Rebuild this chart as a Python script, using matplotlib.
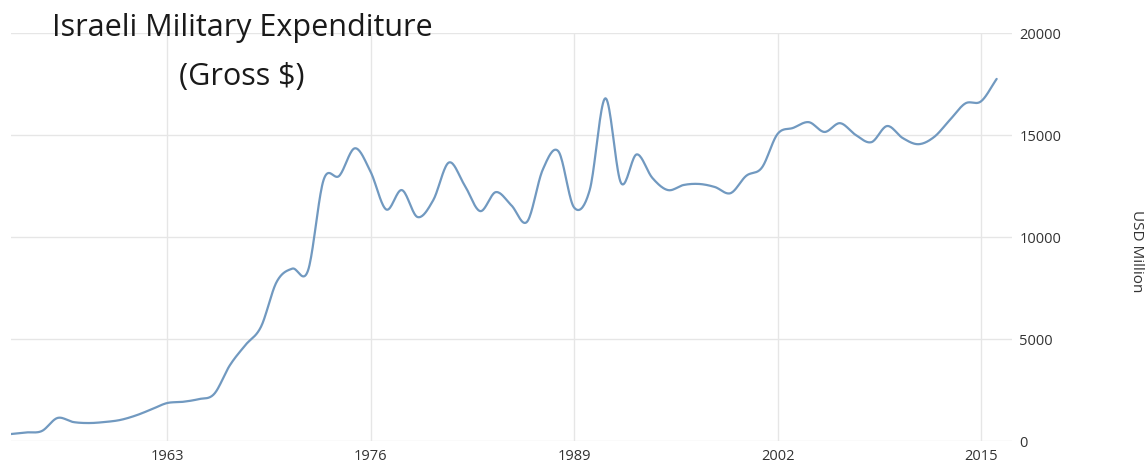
import numpy as np
import matplotlib
matplotlib.use("Agg")
import matplotlib.pyplot as plt


years = list(range(1953, 2017))

spend = [
    340, 420, 490, 1130, 930, 880, 930, 1030, 1250, 1550,
    1860, 1920, 2050, 2300, 3700, 4700, 5600, 7800, 8450, 8350,
    12800, 13000, 14350, 13200, 11350, 12300, 10980, 11800, 13650, 12550,
    11270, 12200, 11550, 10750, 13300, 14200, 11450, 12300, 16800, 12650,
    14050, 12900, 12300, 12550, 12600, 12450, 12150, 13000, 13400, 15050,
    15350, 15630, 15150, 15580, 15000, 14650, 15440, 14850, 14550, 14900,
    15730, 16550, 16650, 17750,
]

y_ticks = [0, 5000, 10000, 15000, 20000]
x_ticks = [1963, 1976, 1989, 2002, 2015]


def smooth(xs, ys, n=20):
    # cardinal spline through the yearly points, only for drawing
    xs = np.asarray(xs, float)
    ys = np.asarray(ys, float)
    m = np.gradient(ys, xs)
    out_x, out_y = [], []
    for i in range(len(xs) - 1):
        h = xs[i + 1] - xs[i]
        t = np.linspace(0, 1, n, endpoint=False)
        h00 = 2 * t**3 - 3 * t**2 + 1
        h10 = t**3 - 2 * t**2 + t
        h01 = -2 * t**3 + 3 * t**2
        h11 = t**3 - t**2
        out_x.extend(xs[i] + t * h)
        out_y.extend(h00 * ys[i] + h10 * h * m[i] + h01 * ys[i + 1] + h11 * h * m[i + 1])
    out_x.append(xs[-1])
    out_y.append(ys[-1])
    return np.array(out_x), np.array(out_y)


plt.rcParams['font.family'] = ['Open Sans', 'DejaVu Sans']

fig = plt.figure(figsize=(11.48, 4.69), dpi=100)
ax = fig.add_axes([0.0092, 0.0597, 0.8726, 0.8699])

sx, sy = smooth(years, spend)
ax.plot(sx, sy, color='#7199c0', lw=1.6, solid_capstyle='round')

ax.set_xlim(1953, 2017)
ax.set_ylim(0, 20000)
ax.set_xticks(x_ticks)
ax.set_yticks(y_ticks)
ax.yaxis.tick_right()
ax.tick_params(length=0, labelsize=10.5, colors='#333333', pad=6)
ax.tick_params(axis='y', pad=5)
ax.grid(True, color='#e6e6e6', lw=1)
ax.set_axisbelow(True)
for s in ax.spines.values():
    s.set_visible(False)

fig.text(0.99, 0.465, "USD Million", rotation=-90, ha='center', va='center',
         fontsize=11, color='#333333')

fig.text(0.211, 0.94, "Israeli Military Expenditure", ha='center', va='center',
         fontsize=22, color='#1a1a1a')
fig.text(0.211, 0.836, "(Gross $)", ha='center', va='center',
         fontsize=22, color='#1a1a1a')

fig.savefig("out.png", dpi=100)
